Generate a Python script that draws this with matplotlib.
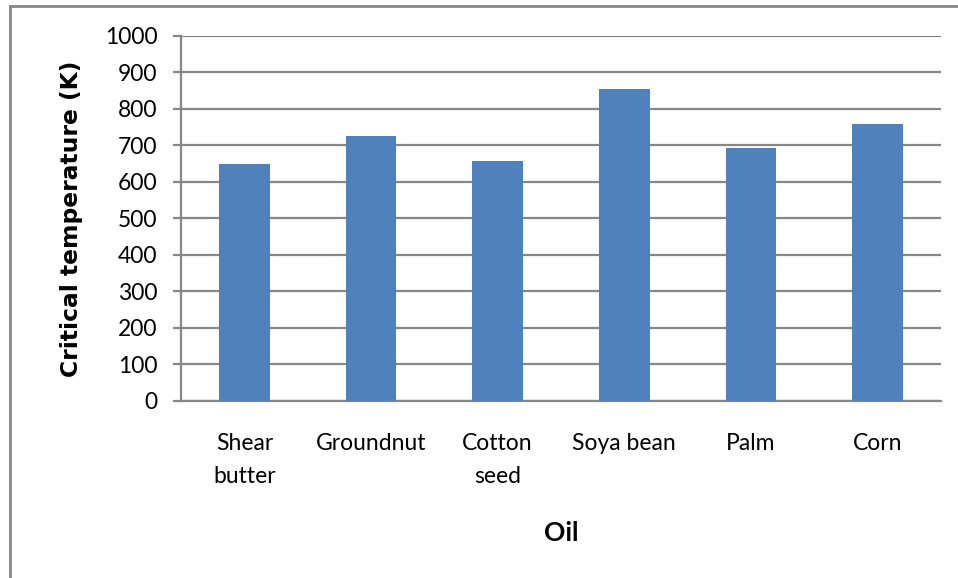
import matplotlib
matplotlib.use("Agg")
import matplotlib.pyplot as plt
from matplotlib.lines import Line2D

categories = ["Shear\nbutter", "Groundnut", "Cotton\nseed", "Soya bean", "Palm", "Corn"]
values = [650, 726, 656, 856, 694, 759]
yticks = [0, 100, 200, 300, 400, 500, 600, 700, 800, 900, 1000]

plt.rcParams['font.family'] = ['Lato', 'DejaVu Sans']

W, H = 958, 578
fig = plt.figure(figsize=(W / 100, H / 100), dpi=100)
ax = fig.add_axes([181 / W, (H - 400.7) / H, (941 - 181) / W, (400.7 - 36) / H])

x = list(range(len(categories)))
ax.bar(x, values, width=0.4, color="#4F81BD", zorder=3)

ax.set_xlim(-0.5, len(categories) - 0.5)
ax.set_ylim(0, 1000)
ax.set_yticks(yticks)
ax.set_yticklabels([str(t) for t in yticks], fontsize=16.5)
ax.set_xticks(x)
ax.set_xticklabels(categories, fontsize=16.5, linespacing=1.7)

grid_c = "#878787"
ax.grid(axis="y", color=grid_c, linewidth=1.6, zorder=1)
for s in ["top", "right"]:
    ax.spines[s].set_visible(False)
ax.spines["left"].set_color(grid_c)
ax.spines["left"].set_linewidth(1.6)
ax.spines["bottom"].set_color(grid_c)
ax.spines["bottom"].set_linewidth(1.6)
ax.tick_params(axis="y", length=6, width=1.6, color=grid_c, pad=11)
ax.tick_params(axis="x", length=0, pad=23)

ax.set_ylabel("Critical temperature (K)", fontsize=16.8, fontweight="bold",
              family=["DejaVu Sans"], labelpad=16)
ax.set_xlabel("Oil", fontsize=19, fontweight="bold", labelpad=25)

# outer chart border (partly cut off at right and bottom)
fig.add_artist(Line2D([10 / W, 10 / W], [0, (H - 6) / H], transform=fig.transFigure,
                      color=grid_c, linewidth=2))
fig.add_artist(Line2D([10 / W, 1], [(H - 6) / H, (H - 6) / H], transform=fig.transFigure,
                      color=grid_c, linewidth=2))

fig.savefig("out.png", dpi=100)
